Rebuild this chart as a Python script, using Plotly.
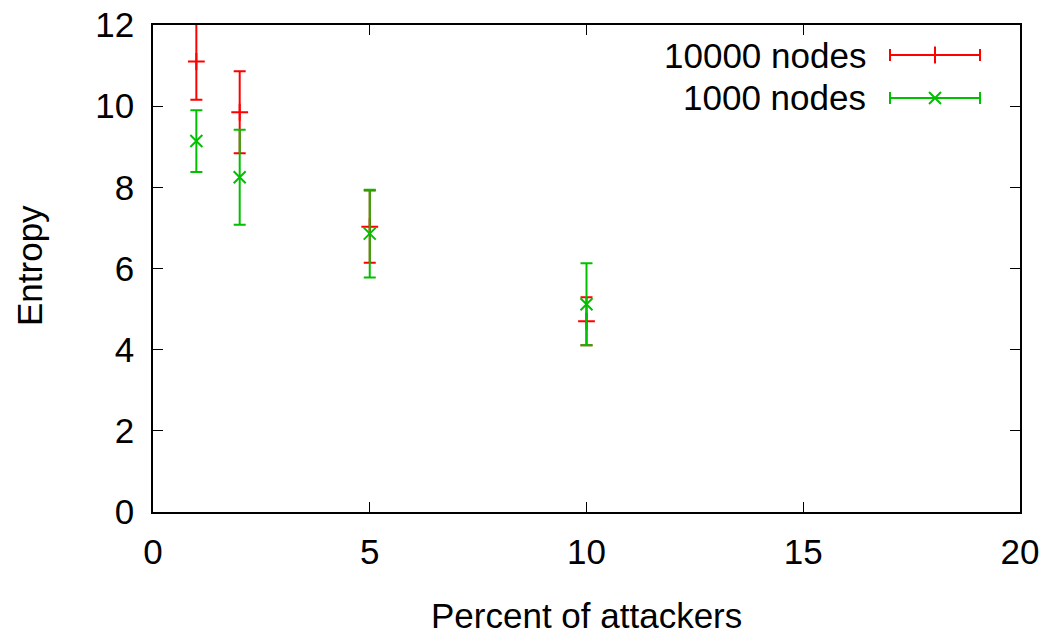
import plotly.graph_objects as go

x_vals = [1, 2, 5, 10]
red_y = [11.1, 9.85, 7.03, 4.70]
red_err = [0.94, 1.01, 0.89, 0.59]
green_y = [9.14, 8.25, 6.86, 5.12]
green_err = [0.76, 1.17, 1.08, 1.01]
labels = ["10000 nodes", "1000 nodes"]
colors = ["#ff0000", "#00c000"]
symbols = ["cross-thin-open", "x-thin-open"]

FONT = "Liberation Sans, Arial, sans-serif"
FS = 35

# plot area in pixels
L, R, T, B = 153, 1020, 25, 512
W, H = 1055, 635
PW, PH = R - L, B - T


def px(xp):
    return (xp - L) / PW


def py(yp):
    return (B - yp) / PH


fig = go.Figure()
for yv, ev, col, sym, name in [(red_y, red_err, colors[0], symbols[0], labels[0]),
                               (green_y, green_err, colors[1], symbols[1], labels[1])]:
    fig.add_trace(go.Scatter(
        x=x_vals, y=yv, mode="markers", name=name,
        marker=dict(symbol=sym, size=12, color=col, line=dict(color=col, width=2)),
        error_y=dict(type="data", array=ev, visible=True, color=col, thickness=2, width=6),
        showlegend=False, cliponaxis=False,
    ))

# Manual legend (text to the left of the sample, gnuplot style)
leg_y = [55, 98]
for i in range(2):
    yp = py(leg_y[i])
    fig.add_annotation(x=px(868), y=yp, xref="paper", yref="paper", text=labels[i],
                       showarrow=False, xanchor="right", yanchor="middle",
                       font=dict(family=FONT, size=FS, color="black"))
    fig.add_shape(type="line", xref="paper", yref="paper", x0=px(890), x1=px(980), y0=yp, y1=yp,
                  line=dict(color=colors[i], width=2))
    for xc in (890, 980):
        fig.add_shape(type="line", xref="paper", yref="paper", x0=px(xc), x1=px(xc),
                      y0=yp - 6 / PH, y1=yp + 6 / PH, line=dict(color=colors[i], width=2))

fig.add_trace(go.Scatter(
    x=[px(935), px(935)], y=[py(leg_y[0]), py(leg_y[1])], xaxis="x2", yaxis="y2",
    mode="markers", showlegend=False, hoverinfo="skip", cliponaxis=False,
    marker=dict(symbol=symbols, size=12, color=colors, line=dict(color=colors, width=2)),
))

# Axis titles
fig.add_annotation(x=px(586), y=py(615), xref="paper", yref="paper", text="Percent of attackers",
                   showarrow=False, xanchor="center", yanchor="middle",
                   font=dict(family=FONT, size=FS, color="black"))
fig.add_annotation(x=px(29), y=py(266), xref="paper", yref="paper", text="Entropy",
                   showarrow=False, xanchor="center", yanchor="middle", textangle=-90,
                   font=dict(family=FONT, size=FS, color="black"))

axis_common = dict(showgrid=False, zeroline=False, ticks="inside", ticklen=10, tickwidth=1,
                   tickcolor="black", showline=True, linecolor="black", linewidth=1.5,
                   mirror="ticks", automargin=False,
                   tickfont=dict(family=FONT, size=FS, color="black"))

fig.update_layout(
    width=W, height=H, paper_bgcolor="white", plot_bgcolor="white",
    margin=dict(l=L, r=W - R, t=T, b=H - B, autoexpand=False),
    xaxis=dict(range=[0, 20], tickvals=[0, 5, 10, 15, 20], ticklabelstandoff=8, **axis_common),
    yaxis=dict(range=[0, 12], tickvals=[0, 2, 4, 6, 8, 10, 12], ticklabelstandoff=10, **axis_common),
    xaxis2=dict(overlaying="x", range=[0, 1], visible=False),
    yaxis2=dict(overlaying="y", range=[0, 1], visible=False),
    font=dict(family=FONT),
)

fig.write_html("out.html")
